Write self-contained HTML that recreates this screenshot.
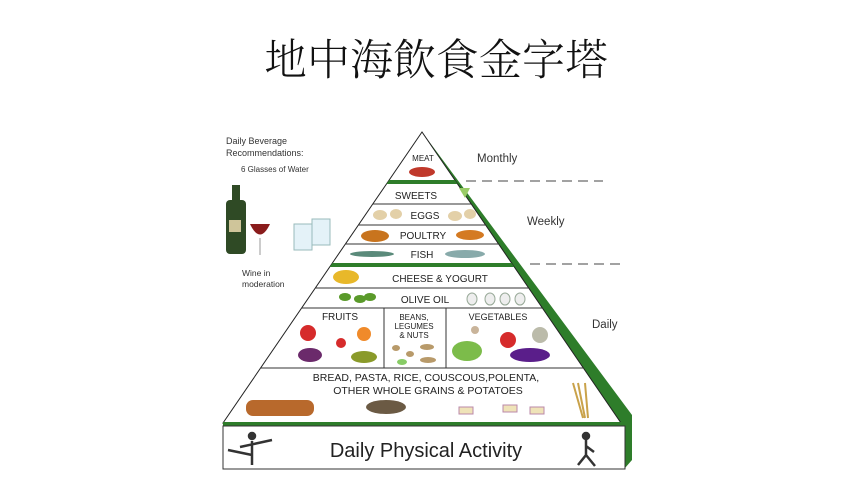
<!DOCTYPE html>
<html><head><meta charset="utf-8"><style>
body{margin:0;background:#fff;width:850px;height:502px;overflow:hidden;position:relative;font-family:"Liberation Sans",sans-serif}
.t{position:absolute;left:264px;top:40px;font-family:"Liberation Serif","Noto Serif CJK TC","Noto Serif CJK SC",serif;font-size:43px;color:#111;white-space:nowrap;line-height:1;font-weight:300}
</style></head><body>
<div class="t">地中海飲食金字塔</div>
<svg width="850" height="502" style="position:absolute;left:0;top:0">
<defs><clipPath id="tri"><polygon points="422,132 223,423 621,423"/></clipPath></defs>
<polygon points="422,132 632,415 632,460 625,468 625,423 621,423" fill="#2e7d2a"/>
<polygon points="422,132 223,423 621,423" fill="#fff" stroke="#222" stroke-width="1"/>
<g clip-path="url(#tri)" stroke="#333" stroke-width="1">
<rect x="200" y="180" width="450" height="4" fill="#2e7d2a" stroke="none"/>
<line x1="200" y1="204" x2="650" y2="204"/>
<line x1="200" y1="225" x2="650" y2="225"/>
<line x1="200" y1="244" x2="650" y2="244"/>
<rect x="200" y="263" width="450" height="4" fill="#2e7d2a" stroke="none"/>
<line x1="200" y1="288" x2="650" y2="288"/>
<line x1="200" y1="308" x2="650" y2="308"/>
<line x1="384" y1="308" x2="384" y2="368"/>
<line x1="446" y1="308" x2="446" y2="368"/>
<line x1="200" y1="368" x2="650" y2="368"/>
</g>
<rect x="223" y="422" width="402" height="4" fill="#2e7d2a"/>
<rect x="223" y="426" width="402" height="43" fill="#fff" stroke="#333"/>
<g font-family="Liberation Sans" fill="#222" text-anchor="middle">
<text x="423" y="161" font-size="8">MEAT</text>
<text x="416" y="199" font-size="10">SWEETS</text>
<text x="425" y="219" font-size="10">EGGS</text>
<text x="423" y="239" font-size="10">POULTRY</text>
<text x="422" y="258" font-size="10">FISH</text>
<text x="440" y="282" font-size="10">CHEESE &amp; YOGURT</text>
<text x="425" y="303" font-size="10">OLIVE OIL</text>
<text x="340" y="320" font-size="10">FRUITS</text>
<text x="414" y="320" font-size="8">BEANS,</text>
<text x="414" y="329" font-size="8">LEGUMES</text>
<text x="414" y="338" font-size="8">&amp; NUTS</text>
<text x="498" y="320" font-size="9">VEGETABLES</text>
<text x="426" y="381" font-size="10.5">BREAD, PASTA, RICE, COUSCOUS,POLENTA,</text>
<text x="428" y="394" font-size="10.5">OTHER WHOLE GRAINS &amp; POTATOES</text>
<text x="426" y="457" font-size="20">Daily Physical Activity</text>
</g>
<g font-family="Liberation Sans" fill="#333" font-size="11.5">
<text x="477" y="162">Monthly</text>
<text x="527" y="225">Weekly</text>
<text x="592" y="328">Daily</text>
<text x="226" y="144" font-size="9">Daily Beverage</text>
<text x="226" y="156" font-size="9">Recommendations:</text>
<text x="241" y="172" font-size="8">6 Glasses of Water</text>
<text x="242" y="276" font-size="8.5">Wine in</text>
<text x="242" y="287" font-size="8.5">moderation</text>
</g>
<g stroke="#444" stroke-dasharray="10,6" stroke-width="1">
<line x1="466" y1="181" x2="603" y2="181"/>
<line x1="530" y1="264" x2="625" y2="264"/>
</g>
<rect x="226" y="200" width="20" height="54" rx="4" fill="#2f4a25"/>
<rect x="232" y="185" width="8" height="18" fill="#2f4a25"/>
<rect x="229" y="220" width="12" height="12" fill="#cfc59a"/>
<path d="M250,224 Q260,245 270,224 Z" fill="#8a1c1c"/>
<line x1="260" y1="238" x2="260" y2="255" stroke="#999"/>
<rect x="294" y="224" width="18" height="26" fill="#e4f2f8" stroke="#9bb"/>
<rect x="312" y="219" width="18" height="26" fill="#e4f2f8" stroke="#9bb"/>
<ellipse cx="422" cy="172" rx="13" ry="5" fill="#c0392b"/>
<path d="M459,188 L465,198 L470,188 Z" fill="#9c6"/>
<ellipse cx="380" cy="215" rx="7" ry="5" fill="#e3d0a8"/><ellipse cx="396" cy="214" rx="6" ry="5" fill="#e3d0a8"/>
<ellipse cx="455" cy="216" rx="7" ry="5" fill="#e3d0a8"/><ellipse cx="470" cy="214" rx="6" ry="5" fill="#e3d0a8"/>
<ellipse cx="375" cy="236" rx="14" ry="6" fill="#c8741e"/><ellipse cx="470" cy="235" rx="14" ry="5" fill="#d47a22"/>
<ellipse cx="372" cy="254" rx="22" ry="3" fill="#5a8a7a"/><ellipse cx="465" cy="254" rx="20" ry="4" fill="#8aa"/>
<ellipse cx="346" cy="277" rx="13" ry="7" fill="#e8b82a"/>
<ellipse cx="345" cy="297" rx="6" ry="4" fill="#5a9a2a"/><ellipse cx="360" cy="299" rx="6" ry="4" fill="#5a9a2a"/><ellipse cx="370" cy="297" rx="6" ry="4" fill="#5a9a2a"/>
<g fill="#eee" stroke="#9a9"><ellipse cx="472" cy="299" rx="5" ry="6"/><ellipse cx="490" cy="299" rx="5" ry="6"/><ellipse cx="505" cy="299" rx="5" ry="6"/><ellipse cx="520" cy="299" rx="5" ry="6"/></g>
<circle cx="308" cy="333" r="8" fill="#d62b2b"/><circle cx="341" cy="343" r="5" fill="#d62b2b"/><circle cx="364" cy="334" r="7" fill="#f08a2a"/>
<ellipse cx="310" cy="355" rx="12" ry="7" fill="#6b2a6b"/><ellipse cx="364" cy="357" rx="13" ry="6" fill="#8a9a2a"/>
<g fill="#b89a6a"><ellipse cx="396" cy="348" rx="4" ry="3"/><ellipse cx="427" cy="347" rx="7" ry="3"/><ellipse cx="410" cy="354" rx="4" ry="3"/><ellipse cx="428" cy="360" rx="8" ry="3"/><ellipse cx="402" cy="362" rx="5" ry="3" fill="#8c6"/></g>
<ellipse cx="467" cy="351" rx="15" ry="10" fill="#7cbc4a"/><circle cx="508" cy="340" r="8" fill="#d62b2b"/><circle cx="540" cy="335" r="8" fill="#bba"/>
<ellipse cx="530" cy="355" rx="20" ry="7" fill="#5a1e8a"/><circle cx="475" cy="330" r="4" fill="#c9b49a"/>
<rect x="246" y="400" width="68" height="16" rx="7" fill="#b8692c"/>
<ellipse cx="386" cy="407" rx="20" ry="7" fill="#6b5a44"/>
<g fill="#efe3b8" stroke="#b8a"><rect x="459" y="407" width="14" height="7"/><rect x="503" y="405" width="14" height="7"/><rect x="530" y="407" width="14" height="7"/></g>
<path d="M573,383 L583,418 M578,383 L585,418 M585,383 L588,418" stroke="#c9a24a" stroke-width="2"/>
<g stroke="#333" stroke-width="2.5" fill="none"><path d="M252,441 L252,465 M240,447 L272,440 M252,455 L228,450"/><circle cx="252" cy="436" r="3" fill="#333"/>
<path d="M586,440 L586,455 L578,465 M586,455 L595,466 M586,446 L594,452"/><circle cx="586" cy="436" r="3" fill="#333"/></g>
</svg>
</body></html>
